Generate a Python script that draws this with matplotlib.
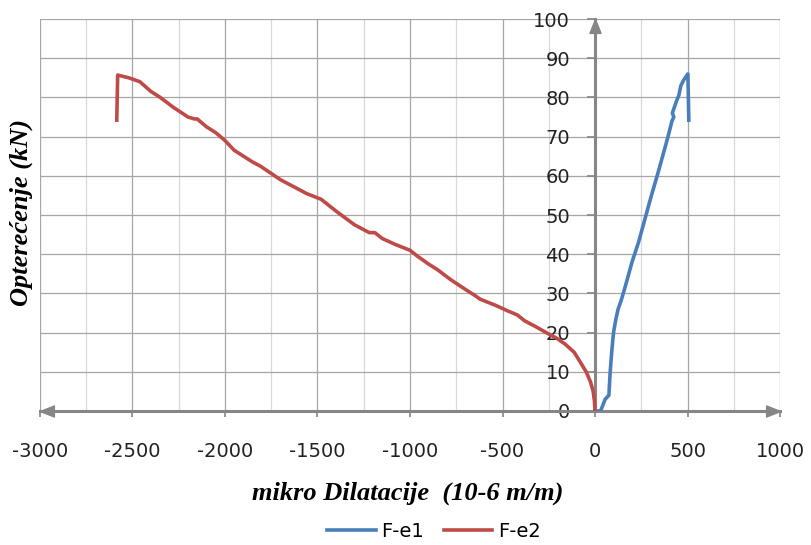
import matplotlib
matplotlib.use("Agg")
import matplotlib.pyplot as plt
from matplotlib.ticker import MultipleLocator

plt.rcParams["axes.unicode_minus"] = False

# F-e1 (blue) and F-e2 (red): strain (10^-6 m/m) vs load (kN)
e1_strain = [0, 30, 55, 75, 82, 92, 100, 113, 125, 140, 165, 200, 235, 270, 302,
             345, 383, 400, 416, 426, 418, 440, 453, 464, 480, 502, 507]
e1_load = [0, 0, 3, 4, 10, 16, 20, 23.5, 26, 28, 32, 38, 43, 49, 54.5,
           61.5, 68, 71, 74, 75, 76, 79, 80.5, 83, 84.5, 86, 74.2]

e2_strain = [0, -3, -10, -25, -48, -80, -113, -160, -205, -264, -320, -380, -420,
             -470, -540, -620, -650, -700, -780, -850, -900, -960, -1000, -1080,
             -1150, -1190, -1220, -1300, -1400, -1480, -1560, -1600, -1700, -1810,
             -1850, -1950, -2000, -2050, -2100, -2150, -2165, -2200, -2280, -2350,
             -2400, -2460, -2520, -2580, -2585]
e2_load = [0, 2.5, 5, 7.5, 10, 12.5, 15, 17, 18.5, 20, 21.5, 23, 24.5,
           25.5, 27, 28.5, 29.5, 31, 33.5, 36, 37.5, 39.5, 41, 42.5,
           44, 45.5, 45.5, 47.5, 51, 54, 55.5, 56.5, 59, 62.5,
           63.5, 66.5, 69, 71, 72.5, 74.5, 74.5, 75, 77.5, 80,
           81.5, 84, 85, 85.7, 74.2]

x_ticks = [-3000, -2500, -2000, -1500, -1000, -500, 0, 500, 1000]
y_ticks = [0, 10, 20, 30, 40, 50, 60, 70, 80, 90, 100]

axis_gray = "#868686"

fig = plt.figure(figsize=(8.11, 5.45), dpi=100)
ax = fig.add_axes([0.0493, 0.2459, 0.9125, 0.7192])

ax.set_xlim(-3000, 1000)
ax.set_ylim(0, 100)
ax.set_xticks(x_ticks)
ax.set_yticks(y_ticks)
ax.xaxis.set_minor_locator(MultipleLocator(250))

ax.grid(which="major", color="#a6a6a6", linewidth=0.9)
ax.grid(which="minor", axis="x", color="#d9d9d9", linewidth=0.9)
ax.set_axisbelow(True)

ax.plot(e1_strain, e1_load, color="#4A7EBB", linewidth=2.6, label="F-e1",
        solid_joinstyle="round", zorder=3)
ax.plot(e2_strain, e2_load, color="#BE4B48", linewidth=2.6, label="F-e2",
        solid_joinstyle="round", zorder=3)

for side in ["top", "right"]:
    ax.spines[side].set_visible(False)
ax.spines["left"].set_position(("data", 0))
ax.spines["bottom"].set_position(("data", 0))
for side in ["left", "bottom"]:
    ax.spines[side].set_color(axis_gray)
    ax.spines[side].set_linewidth(2.2)
    ax.spines[side].set_zorder(2)

ax.tick_params(axis="y", direction="out", length=6, width=1.2, color=axis_gray,
               pad=12, labelsize=14)
ax.tick_params(axis="x", direction="out", length=4, width=1.2, color=axis_gray,
               pad=18, labelsize=14)
ax.tick_params(which="minor", length=0)
for lab in ax.get_xticklabels() + ax.get_yticklabels():
    lab.set_color("#222222")

# arrow heads on the axes (tip at origin of the marker path)
right_head = [(0, 0), (-1, 0.4), (-1, -0.4), (0, 0)]
left_head = [(0, 0), (1, 0.4), (1, -0.4), (0, 0)]
up_head = [(0, 0), (-0.4, -1), (0.4, -1), (0, 0)]
ax.plot([1], [0], marker=right_head, markersize=20, color=axis_gray,
        transform=ax.get_yaxis_transform(), clip_on=False, zorder=2)
ax.plot([0], [0], marker=left_head, markersize=20, color=axis_gray,
        transform=ax.get_yaxis_transform(), clip_on=False, zorder=2)
ax.plot([0], [1], marker=up_head, markersize=20, color=axis_gray,
        transform=ax.get_xaxis_transform(), clip_on=False, zorder=2)

fig.text(0.503, 0.094, "mikro Dilatacije  (10-6 m/m)", ha="center", va="center",
         family="Liberation Serif", fontsize=19, fontweight="bold", style="italic")
fig.text(0.026, 0.61, "Opterećenje (kN)", ha="center", va="center", rotation=90,
         family="Liberation Serif", fontsize=19, fontweight="bold", style="italic")

fig.legend(loc="center", bbox_to_anchor=(0.535, 0.025), ncol=2, frameon=False,
           fontsize=14, handlelength=2.5, columnspacing=1.0, handletextpad=0.3,
           borderpad=0.2)

fig.savefig("out.png", dpi=100)
